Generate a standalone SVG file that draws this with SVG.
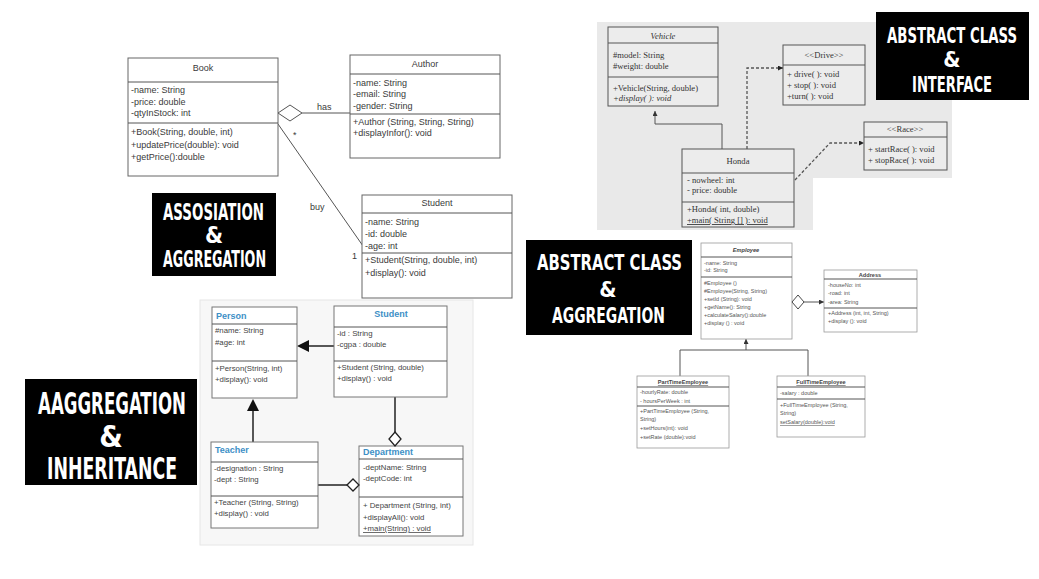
<svg xmlns="http://www.w3.org/2000/svg" width="1039" height="579" viewBox="0 0 1039 579">
<defs>
<marker id="tri" viewBox="0 0 10 10" refX="10" refY="5" markerWidth="5" markerHeight="5" orient="auto" markerUnits="userSpaceOnUse"><path d="M0,0 L10,5 L0,10 z" fill="#222"/></marker>
<marker id="trism" viewBox="0 0 10 10" refX="10" refY="5" markerWidth="5" markerHeight="5" orient="auto" markerUnits="userSpaceOnUse"><path d="M0,0 L10,5 L0,10 z" fill="#333"/></marker>
</defs>
<style>
.b1{fill:#fff;stroke:#666;stroke-width:1}
.t1{font-family:"Liberation Sans",Arial,sans-serif;font-size:9px;fill:#3a3a3a}
.b2{fill:#fff;stroke:#777;stroke-width:1}
.t2{font-family:"Liberation Sans",Arial,sans-serif;font-size:7.8px;fill:#444}
.h2{font-family:"Liberation Sans",Arial,sans-serif;font-size:9px;font-weight:bold;fill:#3d8fc6}
.b3{fill:#ececec;stroke:#555;stroke-width:1}
.t3{font-family:"Liberation Serif","Times New Roman",serif;font-size:8.6px;fill:#333}
.b4{fill:#fff;stroke:#999;stroke-width:0.8}
.t4{font-family:"Liberation Sans",Arial,sans-serif;font-size:5.5px;fill:#555}
.h4{font-family:"Liberation Sans",Arial,sans-serif;font-size:5.6px;font-weight:bold;fill:#444}
.ln{fill:none;stroke:#555;stroke-width:1}
.lnk{fill:none;stroke:#222;stroke-width:1.5}
.dash{fill:none;stroke:#555;stroke-width:1.3;stroke-dasharray:3,2}
.lab{fill:#000}
.lt{font-family:"DejaVu Sans Condensed","DejaVu Sans",sans-serif;font-weight:bold;fill:#fff}
.u{text-decoration:underline}
</style>
<rect width="1039" height="579" fill="#fff"/>
<!-- panels -->
<rect x="200" y="300" width="273" height="245" fill="#f7f7f7" stroke="#e6e6e6"/>
<rect x="597" y="22" width="355" height="208" fill="#e9e9e9"/>
<rect x="813" y="178" width="139" height="52" fill="#fff"/>

<!-- connectors -->
<g id="connectors">
<line class="ln" x1="302" y1="113" x2="350" y2="113"/>
<line class="ln" x1="278" y1="124" x2="363" y2="246"/>
<line class="lnk" x1="334" y1="346" x2="309" y2="346"/>
<path d="M297,346 L309,340 L309,352 z" fill="#111"/>
<line class="lnk" x1="395" y1="397" x2="395" y2="432"/>
<line class="lnk" x1="318" y1="485" x2="347" y2="485"/>
<line class="lnk" x1="253" y1="442" x2="253" y2="411"/>
<path d="M253,399 L247,411 L259,411 z" fill="#111"/>
<polyline class="ln" points="722,149 722,124 655,124 655,111" marker-end="url(#trism)"/>
<polyline class="dash" points="747,149 747,68 783,68" marker-end="url(#tri)"/>
<polyline class="dash" points="795,180 830,143 864,143" marker-end="url(#tri)"/>
<polyline class="ln" points="804,302 824,302" marker-end="url(#trism)"/>
<polyline class="ln" points="746,350 746,339" marker-end="url(#trism)"/>
<polyline class="ln" points="680,376 680,350 808,350 808,376"/>
</g>

<!-- Top-left diagram -->
<g id="book">
<rect class="b1" x="128" y="58" width="150" height="118"/>
<line class="ln" x1="128" y1="82" x2="278" y2="82"/>
<line class="ln" x1="128" y1="123" x2="278" y2="123"/>
<text class="t1" x="203" y="71" text-anchor="middle">Book</text>
<text class="t1" x="131" y="93">-name: String</text>
<text class="t1" x="131" y="105">-price: double</text>
<text class="t1" x="131" y="116">-qtyInStock: int</text>
<text class="t1" x="131" y="135">+Book(String, double, int)</text>
<text class="t1" x="131" y="148">+updatePrice(double): void</text>
<text class="t1" x="131" y="160">+getPrice():double</text>
<path d="M278,113 L290,105 L302,113 L290,121 z" fill="#fff" stroke="#555"/>
</g>
<g id="author">
<rect class="b1" x="350" y="55" width="150" height="103"/>
<line class="ln" x1="350" y1="74" x2="500" y2="74"/>
<line class="ln" x1="350" y1="114" x2="500" y2="114"/>
<text class="t1" x="425" y="67" text-anchor="middle">Author</text>
<text class="t1" x="353" y="86">-name: String</text>
<text class="t1" x="353" y="97">-email: String</text>
<text class="t1" x="353" y="109">-gender: String</text>
<text class="t1" x="353" y="125">+Author (String, String, String)</text>
<text class="t1" x="353" y="136">+displayInfor(): void</text>
</g>
<g id="student1">
<rect class="b1" x="362" y="195" width="150" height="103"/>
<line class="ln" x1="362" y1="213" x2="512" y2="213"/>
<line class="ln" x1="362" y1="253" x2="512" y2="253"/>
<text class="t1" x="437" y="206" text-anchor="middle">Student</text>
<text class="t1" x="365" y="225">-name: String</text>
<text class="t1" x="365" y="237">-id: double</text>
<text class="t1" x="365" y="249">-age: int</text>
<text class="t1" x="365" y="263">+Student(String, double, int)</text>
<text class="t1" x="365" y="276">+display(): void</text>
</g>
<g id="toplabels">
<text class="t1" x="317" y="110">has</text>
<text class="t1" x="293" y="138">*</text>
<text class="t1" x="310" y="210">buy</text>
<text class="t1" x="352" y="259">1</text>
</g>

<!-- Bottom-left diagram -->
<g id="person">
<rect class="b2" x="212" y="307" width="85" height="91"/>
<line class="ln" x1="212" y1="324" x2="297" y2="324"/>
<line class="ln" x1="212" y1="361" x2="297" y2="361"/>
<text class="h2" x="216" y="319">Person</text>
<text class="t2" x="215" y="333">#name: String</text>
<text class="t2" x="215" y="345">#age: int</text>
<text class="t2" x="215" y="371">+Person(String, int)</text>
<text class="t2" x="215" y="382">+display(): void</text>
</g>
<g id="student2">
<rect class="b2" x="334" y="306" width="113" height="91"/>
<line class="ln" x1="334" y1="327" x2="447" y2="327"/>
<line class="ln" x1="334" y1="361" x2="447" y2="361"/>
<text class="h2" x="391" y="317" text-anchor="middle">Student</text>
<text class="t2" x="337" y="336">-id : String</text>
<text class="t2" x="337" y="347">-cgpa : double</text>
<text class="t2" x="337" y="370">+Student (String, double)</text>
<text class="t2" x="337" y="381">+display() : void</text>
</g>
<g id="teacher">
<rect class="b2" x="211" y="442" width="107" height="86"/>
<line class="ln" x1="211" y1="462" x2="318" y2="462"/>
<line class="ln" x1="211" y1="496" x2="318" y2="496"/>
<text class="h2" x="215" y="453">Teacher</text>
<text class="t2" x="214" y="471">-designation : String</text>
<text class="t2" x="214" y="482">-dept : String</text>
<text class="t2" x="214" y="505">+Teacher (String, String)</text>
<text class="t2" x="214" y="516">+display() : void</text>
</g>
<g id="department">
<rect class="b2" x="359" y="446" width="104" height="90"/>
<line class="ln" x1="359" y1="459" x2="463" y2="459"/>
<line class="ln" x1="359" y1="497" x2="463" y2="497"/>
<text class="h2" x="363" y="455">Department</text>
<text class="t2" x="363" y="470">-deptName: String</text>
<text class="t2" x="363" y="481">-deptCode: int</text>
<text class="t2" x="363" y="508">+ Department (String, int)</text>
<text class="t2" x="363" y="520">+displayAll(): void</text>
<text class="t2 u" x="363" y="531">+main(String) : void</text>
<path d="M395,432 L401,439 L395,446 L389,439 z" fill="#fff" stroke="#222" stroke-width="1.3"/>
<path d="M347,485 L353,479 L359,485 L353,491 z" fill="#fff" stroke="#222" stroke-width="1.3"/>
</g>

<!-- Top-right diagram -->
<g id="vehicle">
<rect class="b3" x="608" y="27" width="110" height="79"/>
<line class="ln" x1="608" y1="43" x2="718" y2="43"/>
<line class="ln" x1="608" y1="77" x2="718" y2="77"/>
<text class="t3" x="663" y="39" text-anchor="middle" font-style="italic">Vehicle</text>
<text class="t3" x="613" y="58">#model: String</text>
<text class="t3" x="613" y="69">#weight: double</text>
<text class="t3" x="613" y="91">+Vehicle(String, double)</text>
<text class="t3" x="613" y="101" font-style="italic">+display( ): void</text>
</g>
<g id="drive">
<rect class="b3" x="783" y="45" width="82" height="60"/>
<line class="ln" x1="783" y1="65" x2="865" y2="65"/>
<text class="t3" x="824" y="58" text-anchor="middle">&lt;&lt;Drive&gt;&gt;</text>
<text class="t3" x="787" y="77">+ drive( ): void</text>
<text class="t3" x="787" y="88">+ stop( ): void</text>
<text class="t3" x="787" y="99">+turn( ): void</text>
</g>
<g id="race">
<rect class="b3" x="864" y="122" width="83" height="48"/>
<line class="ln" x1="864" y1="137" x2="947" y2="137"/>
<text class="t3" x="905" y="132" text-anchor="middle">&lt;&lt;Race&gt;&gt;</text>
<text class="t3" x="868" y="152">+ startRace( ): void</text>
<text class="t3" x="868" y="163">+ stopRace( ): void</text>
</g>
<g id="honda">
<rect class="b3" x="682" y="149" width="112" height="78"/>
<line class="ln" x1="682" y1="173" x2="794" y2="173"/>
<line class="ln" x1="682" y1="202" x2="794" y2="202"/>
<text class="t3" x="738" y="164" text-anchor="middle">Honda</text>
<text class="t3" x="687" y="183">- nowheel: int</text>
<text class="t3" x="687" y="193">- price: double</text>
<text class="t3" x="687" y="212">+Honda( int, double)</text>
<text class="t3 u" x="687" y="223">+main( String [] ): void</text>
</g>

<!-- Bottom-right diagram -->
<g id="employee">
<rect class="b4" x="701" y="243" width="91" height="96"/>
<line class="ln" x1="701" y1="257" x2="792" y2="257" stroke="#999"/>
<line class="ln" x1="701" y1="277" x2="792" y2="277" stroke="#999"/>
<text class="h4" x="746" y="252" text-anchor="middle" font-style="italic">Employee</text>
<text class="t4" x="704" y="265">-name: String</text>
<text class="t4" x="704" y="272">-id: String</text>
<text class="t4" x="704" y="285">#Employee ()</text>
<text class="t4" x="704" y="293">#Employee(String, String)</text>
<text class="t4" x="704" y="301">+setId (String): void</text>
<text class="t4" x="704" y="309">+getName(): String</text>
<text class="t4" x="704" y="317">+calculateSalary():double</text>
<text class="t4" x="704" y="325">+display () : void</text>
<path d="M792,302 L798,295 L804,302 L798,309 z" fill="#fff" stroke="#333" stroke-width="0.9"/>
</g>
<g id="address">
<rect class="b4" x="824" y="270" width="93" height="62"/>
<line class="ln" x1="824" y1="279" x2="917" y2="279" stroke="#999"/>
<line class="ln" x1="824" y1="308" x2="917" y2="308" stroke="#999"/>
<text class="h4" x="870" y="277" text-anchor="middle">Address</text>
<text class="t4" x="828" y="287">-houseNo: int</text>
<text class="t4" x="828" y="295">-road: int</text>
<text class="t4" x="828" y="304">-area: String</text>
<text class="t4" x="828" y="315">+Address (int, int, String)</text>
<text class="t4" x="828" y="323">+display (): void</text>
</g>
<g id="parttime">
<rect class="b4" x="637" y="376" width="92" height="72"/>
<line class="ln" x1="637" y1="387" x2="729" y2="387" stroke="#999"/>
<line class="ln" x1="637" y1="406" x2="729" y2="406" stroke="#999"/>
<text class="h4 u" x="683" y="384" text-anchor="middle">PartTimeEmployee</text>
<text class="t4" x="640" y="394">-hourlyRate: double</text>
<text class="t4" x="640" y="403">- hoursPerWeek : int</text>
<text class="t4" x="640" y="413">+PartTimeEmployee (String,</text>
<text class="t4" x="640" y="421">String)</text>
<text class="t4" x="640" y="430">+setHours(int): void</text>
<text class="t4" x="640" y="439">+setRate (double):void</text>
</g>
<g id="fulltime">
<rect class="b4" x="777" y="376" width="88" height="61"/>
<line class="ln" x1="777" y1="387" x2="865" y2="387" stroke="#999"/>
<line class="ln" x1="777" y1="399" x2="865" y2="399" stroke="#999"/>
<text class="h4 u" x="821" y="384" text-anchor="middle">FullTimeEmployee</text>
<text class="t4" x="780" y="395">-salary : double</text>
<text class="t4" x="780" y="407">+FullTimeEmployee (String,</text>
<text class="t4" x="780" y="415">String)</text>
<text class="t4 u" x="780" y="424">setSalary(double):void</text>
</g>

<!-- Title labels -->
<g id="label-assoc">
<rect class="lab" x="152" y="193" width="124" height="83"/>
<text class="lt" x="163" y="220" font-size="23" textLength="101" lengthAdjust="spacingAndGlyphs">ASSOSIATION</text>
<text class="lt" x="214" y="243" font-size="23" text-anchor="middle">&amp;</text>
<text class="lt" x="163" y="267" font-size="23" textLength="103" lengthAdjust="spacingAndGlyphs">AGGREGATION</text>
</g>
<g id="label-inherit">
<rect class="lab" x="25" y="379" width="172" height="106"/>
<text class="lt" x="38" y="414" font-size="30" textLength="148" lengthAdjust="spacingAndGlyphs">AAGGREGATION</text>
<text class="lt" x="111" y="447" font-size="30" text-anchor="middle">&amp;</text>
<text class="lt" x="47" y="479" font-size="30" textLength="130" lengthAdjust="spacingAndGlyphs">INHERITANCE</text>
</g>
<g id="label-interface">
<rect class="lab" x="876" y="12" width="153" height="88"/>
<text class="lt" x="887" y="43" font-size="22" textLength="130" lengthAdjust="spacingAndGlyphs">ABSTRACT CLASS</text>
<text class="lt" x="952" y="67" font-size="22" text-anchor="middle">&amp;</text>
<text class="lt" x="912" y="92" font-size="22" textLength="80" lengthAdjust="spacingAndGlyphs">INTERFACE</text>
</g>
<g id="label-abstract-agg">
<rect class="lab" x="526" y="240" width="166" height="95"/>
<text class="lt" x="537" y="270" font-size="22" textLength="145" lengthAdjust="spacingAndGlyphs">ABSTRACT CLASS</text>
<text class="lt" x="608" y="297" font-size="22" text-anchor="middle">&amp;</text>
<text class="lt" x="552" y="323" font-size="22" textLength="113" lengthAdjust="spacingAndGlyphs">AGGREGATION</text>
</g>
</svg>
